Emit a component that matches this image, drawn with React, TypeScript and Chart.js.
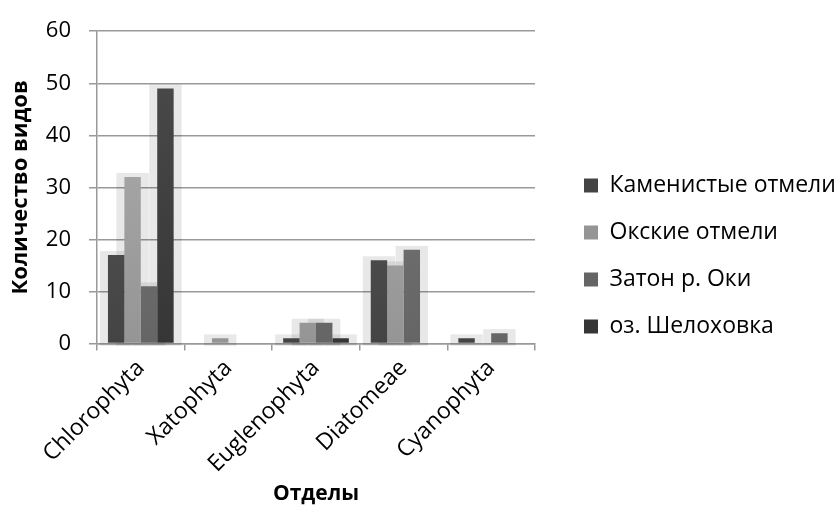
import React, { useEffect, useRef } from "react";
import { Chart, registerables } from "chart.js";

Chart.register(...registerables);

const categories = ["Chlorophyta", "Xatophyta", "Euglenophyta", "Diatomeae", "Cyanophyta"];
const seriesNames = ["Каменистые отмели", "Окские отмели", "Затон р. Оки", "оз. Шелоховка"];
const kamenistye = [17, 0, 1, 16, 1];
const okskie = [32, 1, 4, 15, 0];
const zaton = [11, 0, 4, 18, 2];
const shelokhovka = [49, 0, 1, 0, 0];
const yTicks = [0, 10, 20, 30, 40, 50, 60];

const topColors = ["#5a5a5a", "#b0b0b0", "#7c7c7c", "#4c4c4c"];
const bottomColors = ["#444444", "#959595", "#656565", "#363636"];

const FONT = "'Open Sans', 'DejaVu Sans', sans-serif";

export default function App() {
  const ref = useRef<HTMLCanvasElement | null>(null);
  useEffect(() => {
    if (!ref.current) return;
    const values = [kamenistye, okskie, zaton, shelokhovka];
    const makeGrad = (i: number) => (c: any) => {
      const chart = c.chart;
      const area = chart.chartArea;
      if (!area) return topColors[i];
      const g = chart.ctx.createLinearGradient(0, area.top, 0, area.bottom);
      g.addColorStop(0, topColors[i]);
      g.addColorStop(1, bottomColors[i]);
      return g;
    };
    const haloPlugin = {
      id: "halo",
      beforeDatasetsDraw(chart: any) {
        const ctx = chart.ctx;
        ctx.save();
        ctx.fillStyle = "rgba(0,0,0,0.09)";
        chart.data.datasets.forEach((ds: any, di: number) => {
          const meta = chart.getDatasetMeta(di);
          meta.data.forEach((bar: any, j: number) => {
            if (!ds.data[j]) return;
            const w = bar.width;
            const left = bar.x - w / 2 - 8;
            const top = bar.y - 4;
            const bottom = bar.base + 3;
            ctx.fillRect(left, top, w + 16, bottom - top);
          });
        });
        ctx.restore();
      },
    };
    const chart = new Chart(ref.current, {
      type: "bar",
      data: {
        labels: categories,
        datasets: values.map((v, i) => ({
          label: seriesNames[i],
          data: v,
          backgroundColor: makeGrad(i),
          borderWidth: 0,
          categoryPercentage: 0.75,
          barPercentage: 1,
          yAxisID: "y",
        })),
      },
      options: {
        animation: false,
        responsive: true,
        maintainAspectRatio: false,
        layout: { padding: { top: 5, right: 0, left: 8, bottom: 2 } },
        plugins: {
          tooltip: { enabled: false },
          legend: {
            position: "right",
            align: "center",
            maxWidth: 277,
            labels: {
              boxWidth: 14,
              boxHeight: 14,
              padding: 24,
              color: "#000",
              font: { family: FONT, size: 23 },
              generateLabels: () =>
                seriesNames.map((n, i) => ({
                  text: n,
                  fillStyle: bottomColors[i],
                  strokeStyle: bottomColors[i],
                  lineWidth: 0,
                  datasetIndex: i,
                  hidden: false,
                })),
            },
          },
        },
        scales: {
          x: {
            afterFit: (s: any) => {
              s.paddingLeft = 0;
              s.paddingRight = 0;
            },
            grid: {
              display: true,
              drawOnChartArea: false,
              offset: true,
              color: "#999",
              tickLength: 7,
              lineWidth: 1.5,
            },
            border: { color: "#999", width: 1.5 },
            ticks: {
              minRotation: 45,
              maxRotation: 45,
              color: "#000",
              font: { family: FONT, size: 23 },
              padding: 4,
            },
            title: {
              display: true,
              text: "Отделы",
              color: "#000",
              font: { family: FONT, size: 21, weight: "bold" },
              padding: { top: 0, bottom: 0 },
            },
          },
          y: {
            min: 0,
            max: 60,
            afterBuildTicks: (axis: any) => {
              axis.ticks = yTicks.map((v) => ({ value: v }));
            },
            afterFit: (s: any) => {
              s.width = 89;
            },
            grid: { color: "#999", tickLength: 8, lineWidth: 1.5 },
            border: { color: "#999", width: 1.5 },
            ticks: {
              color: "#000",
              font: { family: FONT, size: 22 },
              padding: 18,
            },
            title: {
              display: true,
              text: "Количество видов",
              color: "#000",
              font: { family: FONT, size: 22, weight: "bold" },
              padding: { top: 0, bottom: 0 },
            },
          },
          gap: {
            type: "linear",
            position: "right",
            display: true,
            grid: { display: false },
            border: { display: false },
            ticks: { display: false },
            afterFit: (s: any) => {
              s.width = 25;
            },
          },
        },
      },
      plugins: [haloPlugin],
    });
    return () => chart.destroy();
  }, []);
  return (
    <div style={{ position: "fixed", left: 0, top: 0, width: 837, height: 509, background: "#fff" }}>
      <canvas ref={ref} />
    </div>
  );
}
